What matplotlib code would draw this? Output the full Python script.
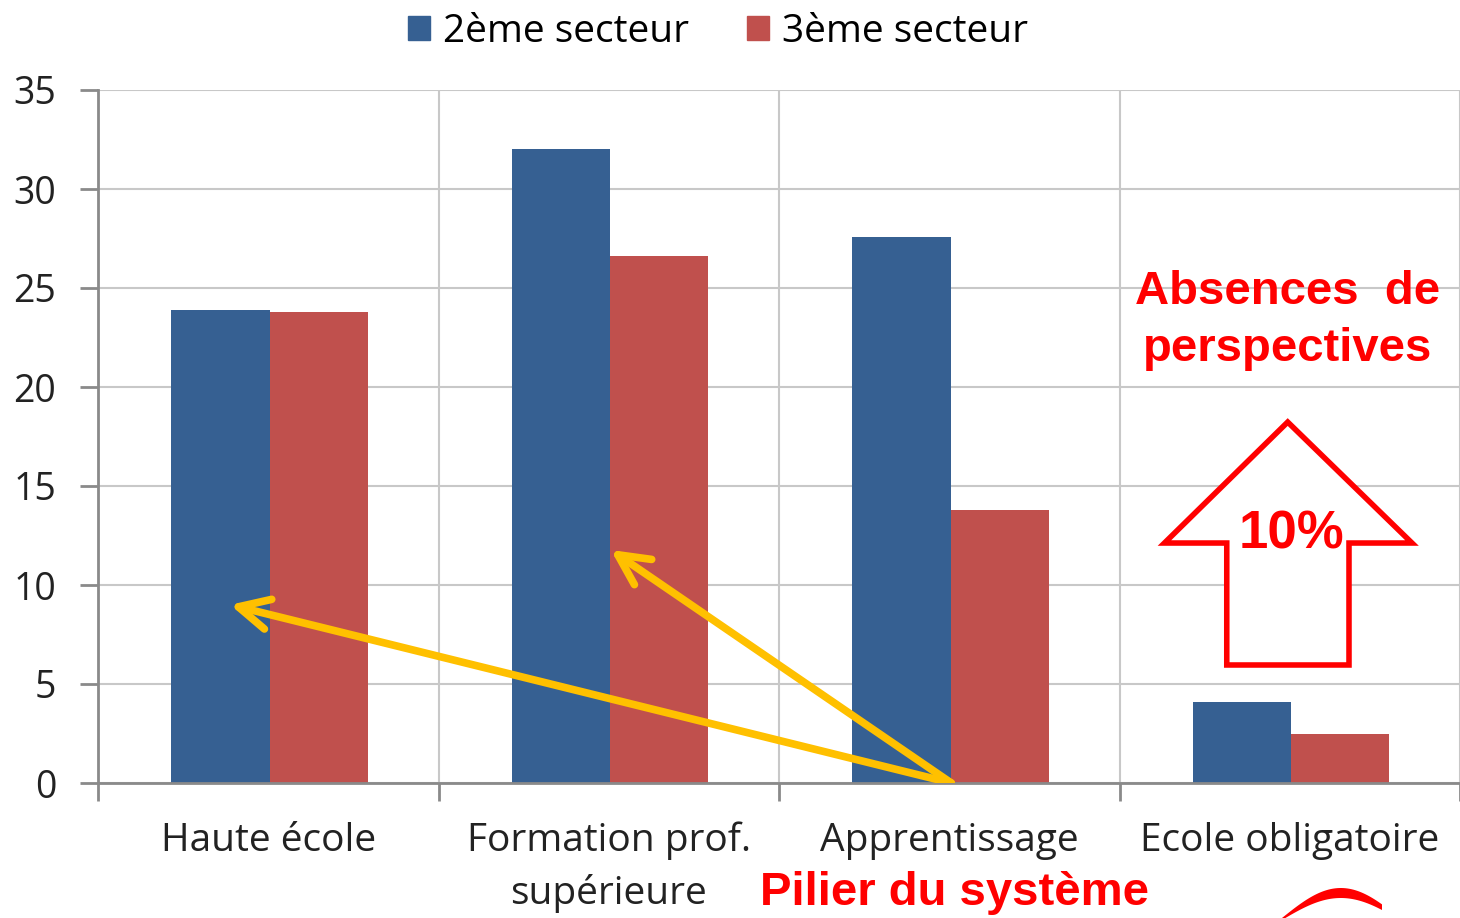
import matplotlib
matplotlib.use("Agg")
import matplotlib.pyplot as plt
import numpy as np
from matplotlib.patches import Polygon, Patch, FancyArrowPatch

categories = ["Haute école", "Formation prof.\nsupérieure", "Apprentissage", "Ecole obligatoire"]
series_names = ["2ème secteur", "3ème secteur"]
secteur2 = [23.9, 32.0, 27.6, 4.1]
secteur3 = [23.8, 26.6, 13.8, 2.5]
yticks = [0, 5, 10, 15, 20, 25, 30, 35]

blue = "#366092"
red = "#C0504D"
grid_c = "#C8C8C8"
axis_c = "#8A8A8A"
font = "Open Sans"

fig = plt.figure(figsize=(14.6, 9.18), dpi=100)
ax = fig.add_axes([98/1460, 1-783/918, 1-98/1460, (783-90)/918])

x = np.arange(len(categories))
w = 98/340
ax.bar(x - w/2 + 0.004, secteur2, w, color=blue, label=series_names[0], zorder=3)
ax.bar(x + w/2 + 0.004, secteur3, w, color=red, label=series_names[1], zorder=3)

ax.set_xlim(-0.5, len(categories) - 0.5)
ax.set_ylim(0, 35)
ax.set_yticks(yticks)
ax.set_yticklabels([str(t) for t in yticks], fontsize=27, fontname=font, color="#222222")
ax.tick_params(axis="y", length=13, width=2, color=axis_c, pad=17)

ax.set_xticks(np.arange(-0.5, len(categories), 1.0))
ax.set_xticklabels([])
ax.tick_params(axis="x", which="major", length=13, width=2, color=axis_c)
ax.set_xticks(x, minor=True)
ax.set_xticklabels(categories, minor=True, fontsize=28, fontname=font, color="#222222", linespacing=1.45)
ax.tick_params(axis="x", which="minor", length=0, pad=28)

ax.grid(True, axis="both", which="major", color=grid_c, linewidth=1.5, zorder=0)
for s in ["top", "right"]:
    ax.spines[s].set_visible(False)
for s in ["left", "bottom"]:
    ax.spines[s].set_color(axis_c)
    ax.spines[s].set_linewidth(2)
    ax.spines[s].set_zorder(4)

handles = [Patch(color=blue), Patch(color=red)]
fig.legend(handles, series_names, loc="center", bbox_to_anchor=(718/1460, 1-32/918), ncol=2,
           frameon=False, prop={"family": font, "size": 28}, handlelength=0.57, handleheight=0.57,
           handletextpad=0.33, columnspacing=1.5)

# yellow arrows
yellow = "#FFC000"
start = (2.006, 0.0)
for end in [(-0.112, 9.0), (1.006, 11.77)]:
    arr = FancyArrowPatch(start, end, arrowstyle="->,head_length=22,head_width=11", color=yellow,
                          linewidth=5.5, capstyle="round", joinstyle="round", zorder=6,
                          shrinkA=0, shrinkB=0, mutation_scale=1)
    ax.add_patch(arr)

# block up arrow
pts = [(2.994, 18.23), (3.359, 12.12), (3.174, 12.12), (3.174, 5.96),
       (2.815, 5.96), (2.815, 12.12), (2.632, 12.12)]
ax.add_patch(Polygon(pts, closed=True, facecolor="white", edgecolor="#FF0000", linewidth=4, zorder=6))
ax.text(3.005, 12.55, "10%", color="#FF0000", fontsize=38, fontweight="bold",
        fontname="Liberation Sans", ha="center", va="center", zorder=7)

ax.text(2.994, 24.8, "Absences  de", color="#FF0000", fontsize=34, fontweight="bold",
        fontname="Liberation Sans", ha="center", va="center", zorder=7)
ax.text(2.994, 21.9, "perspectives", color="#FF0000", fontsize=34, fontweight="bold",
        fontname="Liberation Sans", ha="center", va="center", zorder=7)

fig.text(954/1460, 1-893/918, "Pilier du système", color="#FF0000", fontsize=34, fontweight="bold",
         fontname="Liberation Sans", ha="center", va="center")

# red swoosh (partial logo)
t = np.linspace(0, 1, 50)
ox = 1282 + 100*t
oy = 918 - 30*np.sin(np.pi*t*0.85)
ix = ox[::-1]
iy = (918 - 22*np.sin(np.pi*t*0.85))[::-1] + 2
swx = np.concatenate([ox, ix]) / 1460
swy = 1 - np.concatenate([oy, iy]) / 918
fig.patches.append(Polygon(np.column_stack([swx, swy]), closed=True, transform=fig.transFigure,
                           facecolor="#FF0000", edgecolor="none"))

fig.savefig("out.png", dpi=100)
